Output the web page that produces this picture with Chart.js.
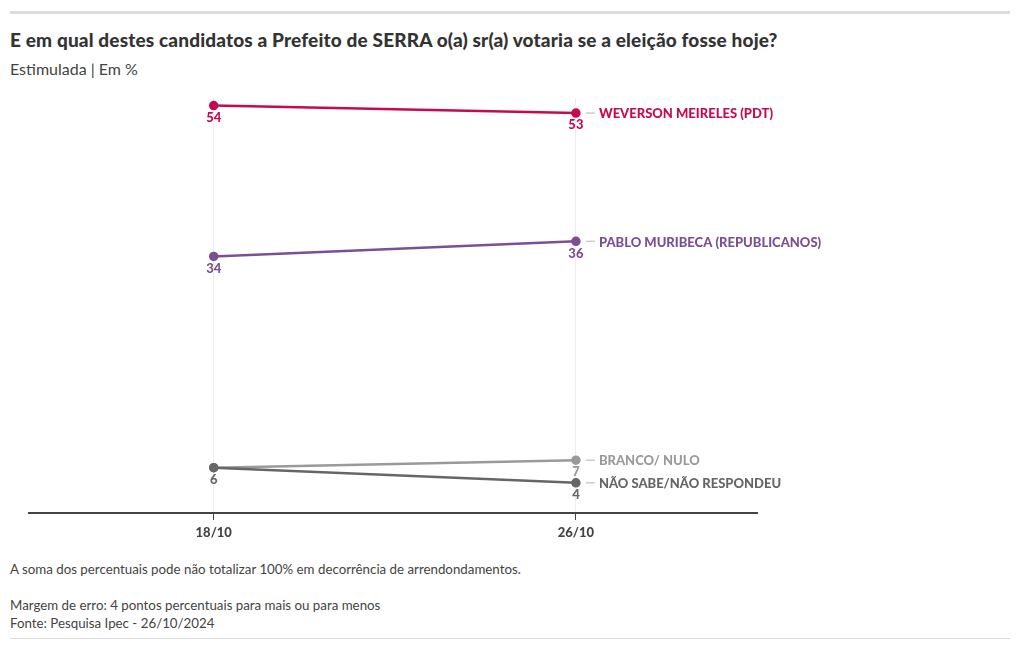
<!DOCTYPE html>
<html>
<head>
<meta charset="utf-8">
<script src="https://cdn.jsdelivr.net/npm/chart.js@4"></script>
<style>
  body { margin: 0; background: #fff; font-family: "Source Sans Pro", Lato, sans-serif; color: #333; }
  #wrap { position: relative; width: 1020px; height: 650px; }
  .topbar { position: absolute; left: 10px; top: 11px; width: 1000px; height: 3px; background: #dcdcdc; }
  h1 { position: absolute; left: 10px; top: 28px; margin: 0; font-size: 19px; letter-spacing: 0.15px; font-weight: 900; color: #333; }
  .sub { position: absolute; left: 10px; top: 59px; font-size: 16px; color: #444; }
  .note { position: absolute; left: 10px; font-size: 13.3px; color: #444; }
  .bottombar { position: absolute; left: 10px; top: 638px; width: 1000px; height: 1px; background: #dcdcdc; }
  #box { position: absolute; left: 0; top: 80px; width: 1020px; height: 470px; }
</style>
</head>
<body>
<div id="wrap">
  <div class="topbar"></div>
  <h1>E em qual destes candidatos a Prefeito de SERRA o(a) sr(a) votaria se a eleição fosse hoje?</h1>
  <div class="sub">Estimulada | Em %</div>
  <div id="box"><canvas id="grafico"></canvas></div>
  <div class="note" style="top:561px">A soma dos percentuais pode não totalizar 100% em decorrência de arrendondamentos.</div>
  <div class="note" style="top:597px">Margem de erro: 4 pontos percentuais para mais ou para menos</div>
  <div class="note" style="top:615px">Fonte: Pesquisa Ipec - 26/10/2024</div>
  <div class="bottombar"></div>
</div>
<script>
var datas = ['18/10', '26/10'];
var nomes = ['WEVERSON MEIRELES (PDT)', 'PABLO MURIBECA (REPUBLICANOS)', 'BRANCO/ NULO', 'NÃO SABE/NÃO RESPONDEU'];
var weverson = [54, 53];
var pablo = [34, 36];
var branco = [6, 7];
var naoSabe = [6, 4];
var cores = ['#c70a50', '#7a4f96', '#9a9a9a', '#666666'];

var fonte = '"Source Sans Pro", Lato, sans-serif';

var rotulos = {
  id: 'rotulos',
  afterDatasetsDraw: function (chart) {
    var ctx = chart.ctx;
    var usados = {};
    ctx.save();
    ctx.font = '900 13px ' + fonte;
    // de trás pra frente: o último dataset fica com o rótulo repetido
    for (var i = chart.data.datasets.length - 1; i >= 0; i--) {
      var ds = chart.data.datasets[i];
      var meta = chart.getDatasetMeta(i);
      meta.data.forEach(function (pt, j) {
        var chave = Math.round(pt.x) + '_' + Math.round(pt.y);
        if (usados[chave]) return;
        usados[chave] = true;
        ctx.fillStyle = ds.borderColor;
        ctx.textAlign = 'center';
        ctx.textBaseline = 'middle';
        ctx.fillText(ds.data[j].y, pt.x, pt.y + 12);
      });
      var ult = meta.data[meta.data.length - 1];
      ctx.strokeStyle = '#cccccc';
      ctx.lineWidth = 1.5;
      ctx.beginPath();
      ctx.moveTo(ult.x + 10, ult.y);
      ctx.lineTo(ult.x + 19, ult.y);
      ctx.stroke();
      ctx.fillStyle = ds.borderColor;
      ctx.textAlign = 'left';
      ctx.fillText(ds.label, ult.x + 23, ult.y + 1);
    }
    ctx.restore();
  }
};

var series = [weverson, pablo, branco, naoSabe];
var ordem = [0, 1, 3, 2];
var ctx = document.getElementById('grafico').getContext('2d');
var grafico = new Chart(ctx, {
  type: 'line',
  data: {
    datasets: series.map(function (s, i) {
      return {
        label: nomes[i],
        data: s.map(function (v, j) { return { x: j, y: v }; }),
        order: ordem[i],
        borderColor: cores[i],
        backgroundColor: cores[i],
        borderWidth: 2.5,
        pointRadius: 3.5,
        pointHoverRadius: 3.5,
        tension: 0
      };
    })
  },
  options: {
    responsive: true,
    maintainAspectRatio: false,
    animation: false,
    layout: { padding: { left: 29, right: 263, top: 18, bottom: 0 } },
    plugins: { legend: { display: false }, tooltip: { enabled: false } },
    scales: {
      y: { display: false, min: 0, max: 55 },
      x: {
        type: 'linear',
        min: -0.51,
        max: 1.5,
        afterBuildTicks: function (scale) {
          scale.ticks = datas.map(function (d, j) { return { value: j }; });
        },
        grid: { color: '#eeeeee', tickColor: '#444', tickLength: 7, lineWidth: 1 },
        border: { color: '#444', width: 2 },
        ticks: {
          color: '#444',
          font: { family: fonte, size: 13, weight: 900 },
          padding: 5,
          callback: function (v) { return datas[v]; }
        },
        afterFit: function (scale) { scale.height = 37; }
      }
    }
  },
  plugins: [rotulos]
});
</script>
</body>
</html>
